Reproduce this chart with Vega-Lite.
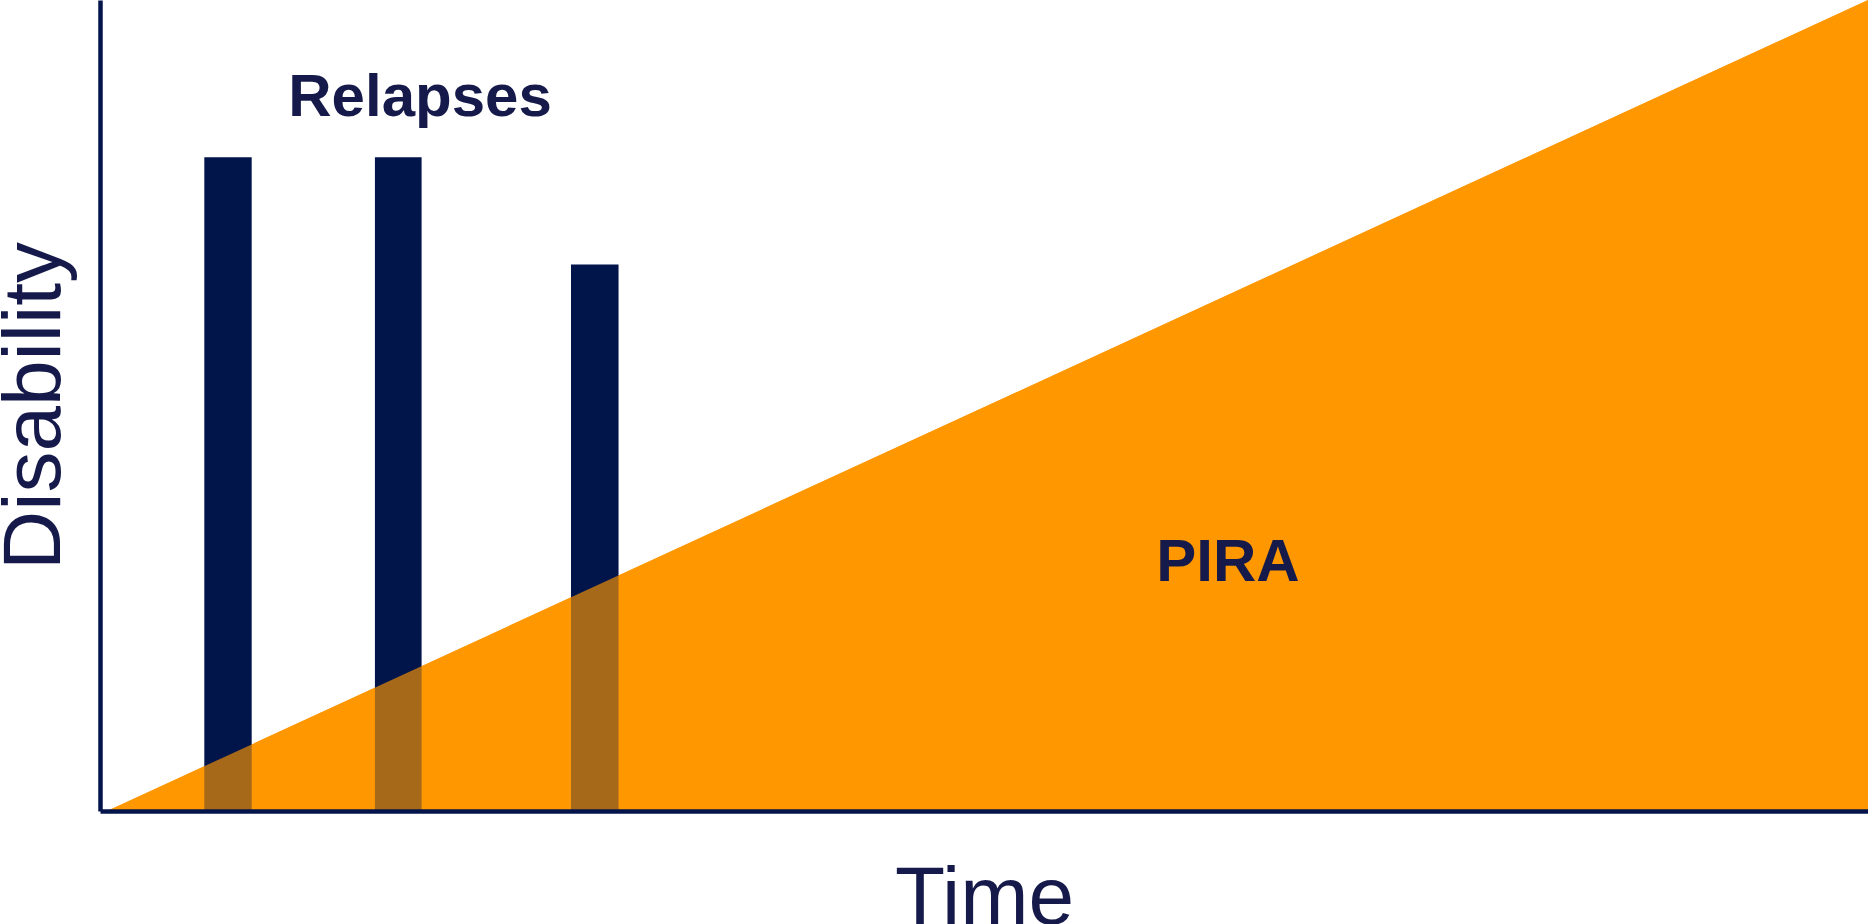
{
  "$schema": "https://vega.github.io/schema/vega-lite/v6.json",
  "width": 1768,
  "height": 811,
  "autosize": {"type": "none"},
  "padding": {"left": 100, "top": 0, "right": 0, "bottom": 113},
  "background": "white",
  "config": {"view": {"stroke": null}},
  "datasets": {
    "pira": [
      {"time": 0.4, "disability": 0},
      {"time": 100, "disability": 100}
    ],
    "relapses": [
      {"time": 5.9, "time_end": 8.58, "disability": 80.6},
      {"time": 15.55, "time_end": 18.19, "disability": 80.6},
      {"time": 26.64, "time_end": 29.33, "disability": 67.4}
    ],
    "labels": [
      {"label": "Relapses", "time": 18.1, "disability": 85.7},
      {"label": "PIRA", "time": 63.8, "disability": 28.4}
    ]
  },
  "layer": [
    {
      "data": {"name": "pira"},
      "mark": {"type": "area", "color": "#FF9700", "opacity": 1, "strokeWidth": 0},
      "encoding": {
        "x": {"field": "time", "type": "quantitative", "scale": {"domain": [0, 100], "nice": false, "zero": false},
          "axis": {"title": "Time", "labels": false, "ticks": false, "grid": false, "domainColor": "#03154B", "domainWidth": 4.5, "zindex": 2,
            "titleFont": "Liberation Sans", "titleFontSize": 82, "titleFontWeight": "normal", "titleColor": "#161A4A",
            "titleBaseline": "alphabetic", "titleX": 884, "titleY": 112, "titleAlign": "center", "titlePadding": 0}},
        "y": {"field": "disability", "type": "quantitative", "scale": {"domain": [0, 100], "nice": false, "zero": false},
          "axis": {"title": "Disability", "labels": false, "ticks": false, "grid": false, "domainColor": "#03154B", "domainWidth": 4.5, "zindex": 2,
            "titleFont": "Liberation Sans", "titleFontSize": 82, "titleFontWeight": "normal", "titleColor": "#161A4A",
            "titleBaseline": "alphabetic", "titleAngle": -90, "titleX": -41, "titleY": 405.5, "titleAlign": "center", "titlePadding": 0}}
      }
    },
    {
      "data": {"name": "relapses"},
      "mark": {"type": "rect", "color": "#02154B"},
      "encoding": {
        "x": {"field": "time", "type": "quantitative", "title": "Time"},
        "x2": {"field": "time_end"},
        "y": {"field": "disability", "type": "quantitative", "title": "Disability"},
        "y2": {"datum": 0}
      }
    },
    {
      "data": {"name": "pira"},
      "mark": {"type": "area", "color": "#FF9700", "opacity": 0.65, "strokeWidth": 0},
      "encoding": {
        "x": {"field": "time", "type": "quantitative", "title": "Time"},
        "y": {"field": "disability", "type": "quantitative", "title": "Disability"}
      }
    },
    {
      "data": {"name": "labels"},
      "mark": {"type": "text", "font": "Liberation Sans", "fontSize": 60, "fontWeight": "bold", "color": "#161A4A", "align": "center", "baseline": "alphabetic"},
      "encoding": {
        "x": {"field": "time", "type": "quantitative", "title": "Time"},
        "y": {"field": "disability", "type": "quantitative", "title": "Disability"},
        "text": {"field": "label"}
      }
    }
  ]
}
